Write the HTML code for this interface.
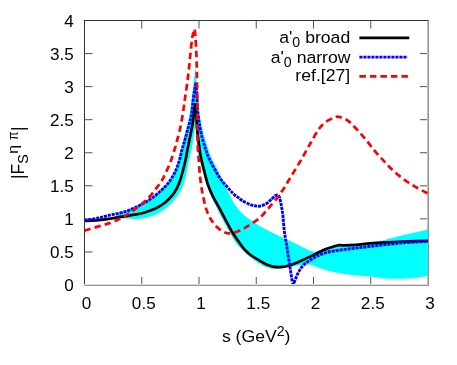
<!DOCTYPE html>
<html><head><meta charset="utf-8"><title>plot</title>
<style>
html,body{margin:0;padding:0;background:#fff;}
svg{display:block;}
text{font-family:"Liberation Sans",sans-serif;font-size:16px;fill:#000;}
</style></head><body>
<svg width="457" height="365" viewBox="0 0 457 365">
<rect width="457" height="365" fill="#fff"/>
<path d="M141.75 285.00 v-8.00 M141.75 20.50 v8.00 M199.00 285.00 v-8.00 M199.00 20.50 v8.00 M256.25 285.00 v-8.00 M256.25 20.50 v8.00 M313.50 285.00 v-8.00 M313.50 20.50 v8.00 M370.75 285.00 v-8.00 M370.75 20.50 v8.00 M84.50 251.94 h8.00 M428.00 251.94 h-8.00 M84.50 218.88 h8.00 M428.00 218.88 h-8.00 M84.50 185.81 h8.00 M428.00 185.81 h-8.00 M84.50 152.75 h8.00 M428.00 152.75 h-8.00 M84.50 119.69 h8.00 M428.00 119.69 h-8.00 M84.50 86.62 h8.00 M428.00 86.62 h-8.00 M84.50 53.56 h8.00 M428.00 53.56 h-8.00 " fill="none" stroke="#000" stroke-width="1" opacity="0.68"/>
<path d="M427.5 20.5V285.5" stroke="#c2c2c2" stroke-width="1" fill="none"/>
<path d="M114.00 218.00 C115.00 217.10 117.77 213.90 120.00 212.60 C122.23 211.30 124.93 211.13 127.40 210.20 C129.87 209.27 132.33 208.17 134.80 207.00 C137.27 205.83 139.73 204.57 142.20 203.20 C144.67 201.83 147.15 200.47 149.60 198.80 C152.05 197.13 154.65 195.08 156.90 193.20 C159.15 191.32 161.08 189.57 163.10 187.50 C165.12 185.43 167.13 183.40 169.00 180.80 C170.87 178.20 172.77 175.20 174.30 171.90 C175.83 168.60 177.10 164.65 178.20 161.00 C179.30 157.35 180.05 153.23 180.90 150.00 C181.75 146.77 182.25 145.63 183.30 141.60 C184.35 137.57 186.20 130.07 187.20 125.80 C188.20 121.53 188.67 119.47 189.30 116.00 C189.93 112.53 190.42 109.33 191.00 105.00 C191.58 100.67 192.25 94.67 192.80 90.00 C193.35 85.33 193.85 80.83 194.30 77.00 C194.75 73.17 195.30 68.67 195.50 67.00 C195.67 69.17 196.12 74.50 196.50 80.00 C196.88 85.50 197.33 94.33 197.80 100.00 C198.27 105.67 198.40 108.60 199.30 114.00 C200.20 119.40 201.90 127.15 203.20 132.40 C204.50 137.65 205.75 141.30 207.10 145.50 C208.45 149.70 209.77 153.98 211.30 157.60 C212.83 161.22 214.37 163.18 216.30 167.20 C218.23 171.22 220.70 177.10 222.90 181.70 C225.10 186.30 227.40 190.83 229.50 194.80 C231.60 198.77 233.18 202.18 235.50 205.50 C237.82 208.82 240.55 212.07 243.40 214.70 C246.25 217.33 249.83 219.38 252.60 221.30 C255.37 223.22 256.80 224.35 260.00 226.20 C263.20 228.05 267.97 230.47 271.80 232.40 C275.63 234.33 279.27 236.03 283.00 237.80 C286.73 239.57 291.02 241.47 294.20 243.00 C297.38 244.53 299.47 245.70 302.10 247.00 C304.73 248.30 307.58 250.03 310.00 250.80 C312.42 251.57 314.13 251.97 316.60 251.60 C319.07 251.23 322.07 249.50 324.80 248.60 C327.53 247.70 330.53 246.83 333.00 246.20 C335.47 245.57 337.68 244.95 339.60 244.80 C341.52 244.65 341.77 245.30 344.50 245.30 C347.23 245.30 351.75 245.15 356.00 244.80 C360.25 244.45 366.67 243.63 370.00 243.20 C373.33 242.77 373.27 242.82 376.00 242.20 C378.73 241.58 381.92 240.65 386.40 239.50 C390.88 238.35 397.42 236.62 402.90 235.30 C408.38 233.98 415.12 232.57 419.30 231.60 C423.48 230.63 426.55 229.85 428.00 229.50 L428.00 275.70 C426.55 275.97 422.67 276.83 419.30 277.30 C415.93 277.77 411.90 278.25 407.80 278.50 C403.70 278.75 398.80 278.85 394.70 278.80 C390.60 278.75 387.32 278.57 383.20 278.20 C379.08 277.83 374.53 277.05 370.00 276.60 C365.47 276.15 360.52 275.98 356.00 275.50 C351.48 275.02 347.28 274.42 342.90 273.70 C338.52 272.98 333.82 272.22 329.70 271.20 C325.58 270.18 321.40 268.68 318.20 267.60 C315.00 266.52 313.62 265.10 310.50 264.70 C307.38 264.30 302.42 264.88 299.50 265.20 C296.58 265.52 295.20 266.20 293.00 266.60 C290.80 267.00 288.52 267.25 286.30 267.60 C284.08 267.95 281.88 268.52 279.70 268.70 C277.52 268.88 275.38 268.93 273.20 268.70 C271.02 268.47 268.80 268.08 266.60 267.30 C264.40 266.52 262.55 265.53 260.00 264.00 C257.45 262.47 254.07 260.28 251.30 258.10 C248.53 255.92 245.95 253.42 243.40 250.90 C240.85 248.38 238.23 245.98 236.00 243.00 C233.77 240.02 232.08 236.62 230.00 233.00 C227.92 229.38 225.67 225.43 223.50 221.30 C221.33 217.17 219.15 212.58 217.00 208.20 C214.85 203.82 212.48 199.37 210.60 195.00 C208.72 190.63 206.87 185.33 205.70 182.00 C204.53 178.67 204.35 177.65 203.60 175.00 C202.85 172.35 202.13 169.87 201.20 166.10 C200.27 162.33 198.78 157.58 198.00 152.40 C197.22 147.22 196.95 139.23 196.50 135.00 C196.05 130.77 195.50 128.33 195.30 127.00 C195.12 128.00 194.68 129.92 194.20 133.00 C193.72 136.08 193.07 141.67 192.40 145.50 C191.73 149.33 190.80 153.42 190.20 156.00 C189.60 158.58 189.37 158.35 188.80 161.00 C188.23 163.65 187.60 168.25 186.80 171.90 C186.00 175.55 185.20 179.47 184.00 182.90 C182.80 186.33 181.10 189.77 179.60 192.50 C178.10 195.23 176.72 197.18 175.00 199.30 C173.28 201.42 171.28 203.38 169.30 205.20 C167.32 207.02 165.17 208.75 163.10 210.20 C161.03 211.65 159.15 212.82 156.90 213.90 C154.65 214.98 152.05 215.95 149.60 216.70 C147.15 217.45 144.67 217.98 142.20 218.40 C139.73 218.82 137.27 219.17 134.80 219.20 C132.33 219.23 129.87 218.77 127.40 218.60 C124.93 218.43 122.23 218.30 120.00 218.20 C117.77 218.10 115.00 218.03 114.00 218.00 Z" fill="#00ffff" stroke="none"/>
<path d="M84.30 220.90 C86.67 220.78 94.08 220.58 98.50 220.20 C102.92 219.82 107.22 219.15 110.80 218.60 C114.38 218.05 117.23 217.37 120.00 216.90 C122.77 216.43 124.93 216.17 127.40 215.80 C129.87 215.43 132.33 215.12 134.80 214.70 C137.27 214.28 139.73 213.95 142.20 213.30 C144.67 212.65 147.15 211.73 149.60 210.80 C152.05 209.87 154.65 208.83 156.90 207.70 C159.15 206.57 161.10 205.45 163.10 204.00 C165.10 202.55 167.02 200.92 168.90 199.00 C170.78 197.08 172.68 195.18 174.40 192.50 C176.12 189.82 177.83 186.33 179.20 182.90 C180.57 179.47 181.58 175.55 182.60 171.90 C183.62 168.25 184.50 164.65 185.30 161.00 C186.10 157.35 186.67 153.72 187.40 150.00 C188.13 146.28 188.87 142.87 189.70 138.70 C190.53 134.53 191.68 129.28 192.40 125.00 C193.12 120.72 193.52 116.45 194.00 113.00 C194.48 109.55 195.08 105.75 195.30 104.30 C195.45 105.75 195.88 108.77 196.20 113.00 C196.52 117.23 196.87 125.42 197.20 129.70 C197.53 133.98 197.73 134.92 198.20 138.70 C198.67 142.48 199.45 148.85 200.00 152.40 C200.55 155.95 200.78 156.87 201.50 160.00 C202.22 163.13 203.25 167.15 204.30 171.20 C205.35 175.25 206.43 180.23 207.80 184.30 C209.17 188.37 210.57 191.62 212.50 195.60 C214.43 199.58 217.10 203.92 219.40 208.20 C221.70 212.48 224.05 217.13 226.30 221.30 C228.55 225.47 230.70 229.62 232.90 233.20 C235.10 236.78 237.53 240.07 239.50 242.80 C241.47 245.53 242.73 247.48 244.70 249.60 C246.67 251.72 248.75 253.63 251.30 255.50 C253.85 257.37 257.45 259.30 260.00 260.80 C262.55 262.30 264.40 263.53 266.60 264.50 C268.80 265.47 271.02 266.17 273.20 266.60 C275.38 267.03 277.52 267.17 279.70 267.10 C281.88 267.03 283.88 266.75 286.30 266.20 C288.72 265.65 291.57 264.78 294.20 263.80 C296.83 262.82 299.47 261.50 302.10 260.30 C304.73 259.10 307.58 257.73 310.00 256.60 C312.42 255.47 314.13 254.68 316.60 253.50 C319.07 252.32 322.07 250.63 324.80 249.50 C327.53 248.37 330.53 247.45 333.00 246.70 C335.47 245.95 338.50 245.28 339.60 245.00 C340.42 245.05 341.77 245.33 344.50 245.30 C347.23 245.27 351.75 245.12 356.00 244.80 C360.25 244.48 364.93 243.82 370.00 243.40 C375.07 242.98 380.92 242.62 386.40 242.30 C391.88 241.98 397.42 241.72 402.90 241.50 C408.38 241.28 415.12 241.12 419.30 241.00 C423.48 240.88 426.55 240.83 428.00 240.80" fill="none" stroke="#000" stroke-width="2.7" stroke-linejoin="round"/>
<path d="M84.30 220.70 C86.67 220.25 94.08 218.97 98.50 218.00 C102.92 217.03 107.22 215.73 110.80 214.90 C114.38 214.07 117.23 213.68 120.00 213.00 C122.77 212.32 124.93 211.68 127.40 210.80 C129.87 209.92 132.33 208.83 134.80 207.70 C137.27 206.57 139.73 205.33 142.20 204.00 C144.67 202.67 147.15 201.33 149.60 199.70 C152.05 198.07 154.65 196.05 156.90 194.20 C159.15 192.35 161.03 190.67 163.10 188.60 C165.17 186.53 167.30 184.58 169.30 181.80 C171.30 179.02 173.45 175.37 175.10 171.90 C176.75 168.43 178.07 164.65 179.20 161.00 C180.33 157.35 181.03 153.23 181.90 150.00 C182.77 146.77 183.27 145.63 184.40 141.60 C185.53 137.57 187.55 130.07 188.70 125.80 C189.85 121.53 190.70 118.97 191.30 116.00 C191.90 113.03 191.98 110.73 192.30 108.00 C192.62 105.27 192.82 102.60 193.20 99.60 C193.58 96.60 194.13 92.83 194.60 90.00 C195.07 87.17 195.77 83.83 196.00 82.60 C196.15 84.83 196.58 91.00 196.90 96.00 C197.22 101.00 197.40 107.42 197.90 112.60 C198.40 117.78 199.13 122.72 199.90 127.10 C200.67 131.48 201.52 135.17 202.50 138.90 C203.48 142.63 204.72 146.25 205.80 149.50 C206.88 152.75 207.47 155.02 209.00 158.40 C210.53 161.78 212.90 166.13 215.00 169.80 C217.10 173.47 219.18 177.10 221.60 180.40 C224.02 183.70 227.40 187.23 229.50 189.60 C231.60 191.97 232.67 193.23 234.20 194.60 C235.73 195.97 237.38 196.80 238.70 197.80 C240.02 198.80 240.22 199.48 242.10 200.60 C243.98 201.72 247.85 203.63 250.00 204.50 C252.15 205.37 253.33 205.53 255.00 205.80 C256.67 206.07 258.07 206.50 260.00 206.10 C261.93 205.70 264.63 204.62 266.60 203.40 C268.57 202.18 270.40 200.03 271.80 198.80 C273.20 197.57 274.12 196.65 275.00 196.00 C275.88 195.35 276.75 195.08 277.10 194.90 C277.38 195.08 278.37 195.45 278.80 196.00 C279.23 196.55 279.22 196.30 279.70 198.20 C280.18 200.10 281.15 204.33 281.70 207.40 C282.25 210.47 282.57 212.67 283.00 216.60 C283.43 220.53 283.75 226.60 284.30 231.00 C284.85 235.40 285.63 238.80 286.30 243.00 C286.97 247.20 287.63 251.82 288.30 256.20 C288.97 260.58 289.65 265.13 290.30 269.30 C290.95 273.47 291.65 278.70 292.20 281.20 C292.75 283.70 293.37 283.78 293.60 284.30 C293.92 283.42 294.63 281.12 295.50 279.00 C296.37 276.88 297.48 273.90 298.80 271.60 C300.12 269.30 301.53 267.10 303.40 265.20 C305.27 263.30 307.80 261.68 310.00 260.20 C312.20 258.72 314.13 257.48 316.60 256.30 C319.07 255.12 322.07 253.97 324.80 253.10 C327.53 252.23 329.98 251.67 333.00 251.10 C336.02 250.53 339.07 250.20 342.90 249.70 C346.73 249.20 351.48 248.65 356.00 248.10 C360.52 247.55 364.93 247.00 370.00 246.40 C375.07 245.80 380.92 245.10 386.40 244.50 C391.88 243.90 397.42 243.25 402.90 242.80 C408.38 242.35 415.12 242.05 419.30 241.80 C423.48 241.55 426.55 241.38 428.00 241.30" fill="none" stroke="#0000ff" stroke-width="2.9" stroke-dasharray="3.1 0.9" stroke-linejoin="round"/>
<path d="M84.30 230.70 C86.67 229.98 94.08 227.73 98.50 226.40 C102.92 225.07 107.12 224.03 110.80 222.70 C114.48 221.37 117.52 219.97 120.60 218.40 C123.68 216.83 126.32 215.28 129.30 213.30 C132.28 211.32 135.95 208.45 138.50 206.50 C141.05 204.55 142.55 203.45 144.60 201.60 C146.65 199.75 148.75 197.77 150.80 195.40 C152.85 193.03 155.10 189.80 156.90 187.40 C158.70 185.00 160.17 183.35 161.60 181.00 C163.03 178.65 164.05 176.42 165.50 173.30 C166.95 170.18 168.82 166.18 170.30 162.30 C171.78 158.42 173.32 153.45 174.40 150.00 C175.48 146.55 175.75 145.63 176.80 141.60 C177.85 137.57 179.60 131.07 180.70 125.80 C181.80 120.53 182.68 114.58 183.40 110.00 C184.12 105.42 184.38 102.67 185.00 98.30 C185.62 93.93 186.43 88.85 187.10 83.80 C187.77 78.75 188.43 73.15 189.00 68.00 C189.57 62.85 189.95 58.05 190.50 52.90 C191.05 47.75 191.62 41.10 192.30 37.10 C192.98 33.10 194.22 30.27 194.60 28.90 C194.75 30.27 195.22 33.10 195.50 37.10 C195.78 41.10 196.08 47.75 196.30 52.90 C196.52 58.05 196.68 63.28 196.80 68.00 C196.92 72.72 196.93 76.82 197.00 81.20 C197.07 85.58 197.17 89.27 197.20 94.30 C197.23 99.33 197.18 105.50 197.20 111.40 C197.22 117.30 197.18 123.35 197.30 129.70 C197.42 136.05 197.68 144.78 197.90 149.50 C198.12 154.22 198.27 153.73 198.60 158.00 C198.93 162.27 199.37 169.83 199.90 175.10 C200.43 180.37 201.23 185.95 201.80 189.60 C202.37 193.25 202.62 193.90 203.30 197.00 C203.98 200.10 204.70 204.58 205.90 208.20 C207.10 211.82 208.63 215.53 210.50 218.70 C212.37 221.87 214.68 224.90 217.10 227.20 C219.52 229.50 222.92 231.47 225.00 232.50 C227.08 233.53 227.63 233.52 229.60 233.40 C231.57 233.28 234.07 232.83 236.80 231.80 C239.53 230.77 242.48 229.28 246.00 227.20 C249.52 225.12 255.35 221.07 257.90 219.30 C260.45 217.53 259.42 218.58 261.30 216.60 C263.18 214.62 266.57 210.47 269.20 207.40 C271.83 204.33 275.15 200.63 277.10 198.20 C279.05 195.77 279.58 194.73 280.90 192.80 C282.22 190.87 283.57 188.90 285.00 186.60 C286.43 184.30 287.00 183.15 289.50 179.00 C292.00 174.85 296.62 167.47 300.00 161.70 C303.38 155.93 306.73 149.73 309.80 144.40 C312.87 139.07 315.82 133.38 318.40 129.70 C320.98 126.02 322.72 124.28 325.30 122.30 C327.88 120.32 331.65 118.72 333.90 117.80 C336.15 116.88 336.55 116.38 338.80 116.80 C341.05 117.22 344.73 118.57 347.40 120.30 C350.07 122.03 351.92 124.20 354.80 127.20 C357.68 130.20 361.42 134.40 364.70 138.30 C367.98 142.20 371.22 146.70 374.50 150.60 C377.78 154.50 381.12 158.20 384.40 161.70 C387.68 165.20 390.50 168.32 394.20 171.60 C397.90 174.88 402.48 178.53 406.60 181.40 C410.72 184.27 415.33 186.78 418.90 188.80 C422.47 190.82 426.48 192.72 428.00 193.50" fill="none" stroke="#ff0000" stroke-width="2.7" stroke-dasharray="6.5 4" stroke-linejoin="round"/>
<path d="M84.5 20V286" stroke="#333" stroke-width="1" fill="none"/>
<path d="M84 20.5H429" stroke="#333" stroke-width="1" fill="none"/>
<path d="M428.5 20V286" stroke="#909090" stroke-width="1" fill="none"/>
<path d="M84 284.5H428" stroke="#dcdcdc" stroke-width="1" fill="none"/>
<path d="M84 285.5H429" stroke="#969696" stroke-width="1" fill="none"/>
<g id="txt" style="opacity:0.999">
<text transform="translate(86.50,309.3) scale(1.07,1)" text-anchor="middle">0</text>
<text transform="translate(143.75,309.3) scale(1.07,1)" text-anchor="middle">0.5</text>
<text transform="translate(201.00,309.3) scale(1.07,1)" text-anchor="middle">1</text>
<text transform="translate(258.25,309.3) scale(1.07,1)" text-anchor="middle">1.5</text>
<text transform="translate(315.50,309.3) scale(1.07,1)" text-anchor="middle">2</text>
<text transform="translate(372.75,309.3) scale(1.07,1)" text-anchor="middle">2.5</text>
<text transform="translate(430.00,309.3) scale(1.07,1)" text-anchor="middle">3</text>
<text transform="translate(73.8,291.00) scale(1.07,1)" text-anchor="end">0</text>
<text transform="translate(73.8,257.94) scale(1.07,1)" text-anchor="end">0.5</text>
<text transform="translate(73.8,224.88) scale(1.07,1)" text-anchor="end">1</text>
<text transform="translate(73.8,191.81) scale(1.07,1)" text-anchor="end">1.5</text>
<text transform="translate(73.8,158.75) scale(1.07,1)" text-anchor="end">2</text>
<text transform="translate(73.8,125.69) scale(1.07,1)" text-anchor="end">2.5</text>
<text transform="translate(73.8,92.62) scale(1.07,1)" text-anchor="end">3</text>
<text transform="translate(73.8,59.56) scale(1.07,1)" text-anchor="end">3.5</text>
<text transform="translate(73.8,26.50) scale(1.07,1)" text-anchor="end">4</text>

<!-- legend -->
<text transform="translate(350.2,42.6) scale(1.025,1)" text-anchor="end" style="font-size:17.2px">a'<tspan font-size="13.8" dy="4.4">0</tspan><tspan dy="-4.4"> broad</tspan></text>
<text transform="translate(350.5,62.6) scale(1.025,1)" text-anchor="end" style="font-size:17.2px">a'<tspan font-size="13.8" dy="4.4">0</tspan><tspan dy="-4.4"> narrow</tspan></text>
<text transform="translate(350.2,81.0) scale(1.025,1)" text-anchor="end" style="font-size:17.2px">ref.[27]</text>
<path d="M359.4 37.9H409.3" stroke="#000" stroke-width="2.7" fill="none"/>
<path d="M359.4 57.1H407.6" stroke="#0000ff" stroke-width="2.9" stroke-dasharray="3.1 0.9" fill="none"/>
<path d="M359.4 76.4H408.4" stroke="#ff0000" stroke-width="2.7" stroke-dasharray="6.5 4" fill="none"/>
<!-- axis titles -->
<text transform="translate(256.2,341.8) scale(1.025,1)" text-anchor="middle" style="font-size:17.2px">s (GeV<tspan font-size="13.8" dy="-5.7">2</tspan><tspan dy="5.7">)</tspan></text>
<text transform="translate(24.30,179.10) rotate(-90) scale(1.090,1.120)" style="font-size:16px">|</text>
<text transform="translate(24.00,174.40) rotate(-90) scale(1.090,1.090)" style="font-size:16px">F</text>
<text transform="translate(28.40,163.70) rotate(-90) scale(1.120,1.150)" style="font-size:12.8px">S</text>
<text transform="translate(17.90,153.70) rotate(-90) scale(1.230,1.135)" style="font-size:12.8px">η</text>
<text transform="translate(18.10,140.10) rotate(-90) scale(0.960,1.145)" style="font-size:12.8px">π</text>
<text transform="translate(24.30,131.00) rotate(-90) scale(1.090,1.120)" style="font-size:16px">|</text>
</g>
</svg>
</body></html>
